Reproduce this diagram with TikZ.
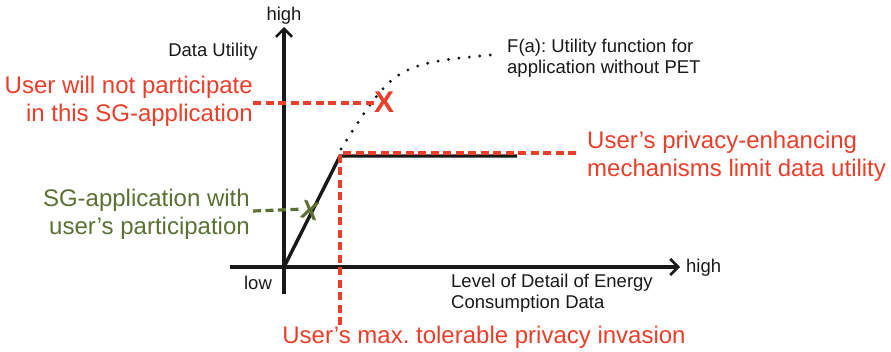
\documentclass[tikz,border=0pt]{standalone}
\usepackage{fontspec}
\setmainfont{Liberation Sans}
\usetikzlibrary{arrows.meta}
\frenchspacing
\definecolor{warnred}{RGB}{232,62,42}
\definecolor{okgreen}{RGB}{92,112,52}
\definecolor{ink}{RGB}{25,25,25}
\tikzset{
  axis/.style={draw=ink, line width=3.2pt, -{Straight Barb[length=8pt,width=16pt,line width=2.6pt]}},
  curve/.style={draw=ink, line width=3.4pt},
  reddash/.style={draw=warnred, line width=3.2pt, dash pattern=on 8pt off 4.5pt},
  greendash/.style={draw=okgreen, line width=3.2pt, dash pattern=on 8pt off 4.5pt},
  lbl/.style={font=\fontsize{18.5}{21}\selectfont, text=ink, inner sep=0pt},
  redlbl/.style={font=\fontsize{24}{28}\selectfont, text=warnred, inner sep=0pt},
  greenlbl/.style={font=\fontsize{24}{28}\selectfont, text=okgreen, inner sep=0pt},
  markx/.style={font=\bfseries\fontsize{30}{30}\selectfont, inner sep=0pt}
}
\begin{document}
\begin{tikzpicture}[x=1pt,y=-1pt]
\useasboundingbox (0,0) rectangle (891,351);
% key points of the plot
\coordinate (O) at (284,267);
\coordinate (ytop) at (284,27);
\coordinate (ybot) at (284,294);
\coordinate (xleft) at (230,267);
\coordinate (xright) at (680,267);
\coordinate (knee) at (340,156);
\coordinate (plateau) at (517,156);
\coordinate (fend) at (500,54);

% utility function without PET (dotted)
\draw[ink, line width=3.2pt, line cap=round, dash pattern=on 0pt off 10.5pt]
  (341,149) .. controls (395,64) .. (fend);

% axes
\draw[draw=ink, line width=3.2pt] (ybot) -- (O);
\draw[axis] (O) -- (ytop);
\draw[axis] (xleft) -- (xright);

% limited utility curve
\draw[curve] (O) -- (knee) -- (plateau);

% red markers
\coordinate (redL) at (253,103);
\node[markx, text=warnred] (xred) at (384,102) {X};
\draw[reddash] (redL) -- (xred.west |- redL);
\coordinate (pvtop) at (340,153);
\coordinate (pvbot) at (340,325);
\coordinate (pvright) at (578,153);
\draw[reddash] (pvbot) -- (pvtop) -- (pvright);

% green marker
\coordinate (greenL) at (253,211);
\node[markx, text=okgreen, font=\bfseries\fontsize{26}{26}\selectfont, rotate=-12] (xgreen) at (310,211) {X};
\draw[greendash] (greenL) -- (xgreen.west);

% axis labels
\node[lbl] (yhigh) at (284,16) {high};
\node[lbl] (ylab) at (213,52) {Data Utility};
\node[lbl, anchor=west] (xhigh) at (686,268) {high};
\node[lbl] (low) at (258,283) {low};
\node[lbl, anchor=west, align=left] (xlab) at (451,293)
  {Level of Detail of Energy\\Consumption Data};
\node[lbl, anchor=west, align=left] (flab) at (507,58)
  {F(a): Utility function for\\application without PET};

% annotations
\node[redlbl, anchor=east, align=right] (nopart) at (253,101)
  {User will not participate\\in this SG-application};
\node[redlbl, anchor=west, align=left] (limit) at (587,156)
  {User’s privacy-enhancing\\mechanisms limit data utility};
\node[greenlbl, anchor=east, align=right] (part) at (250,214)
  {SG-application with\\user’s participation};
\node[redlbl] (maxinv) at (484,337) {User’s max. tolerable privacy invasion};
\end{tikzpicture}
\end{document}
